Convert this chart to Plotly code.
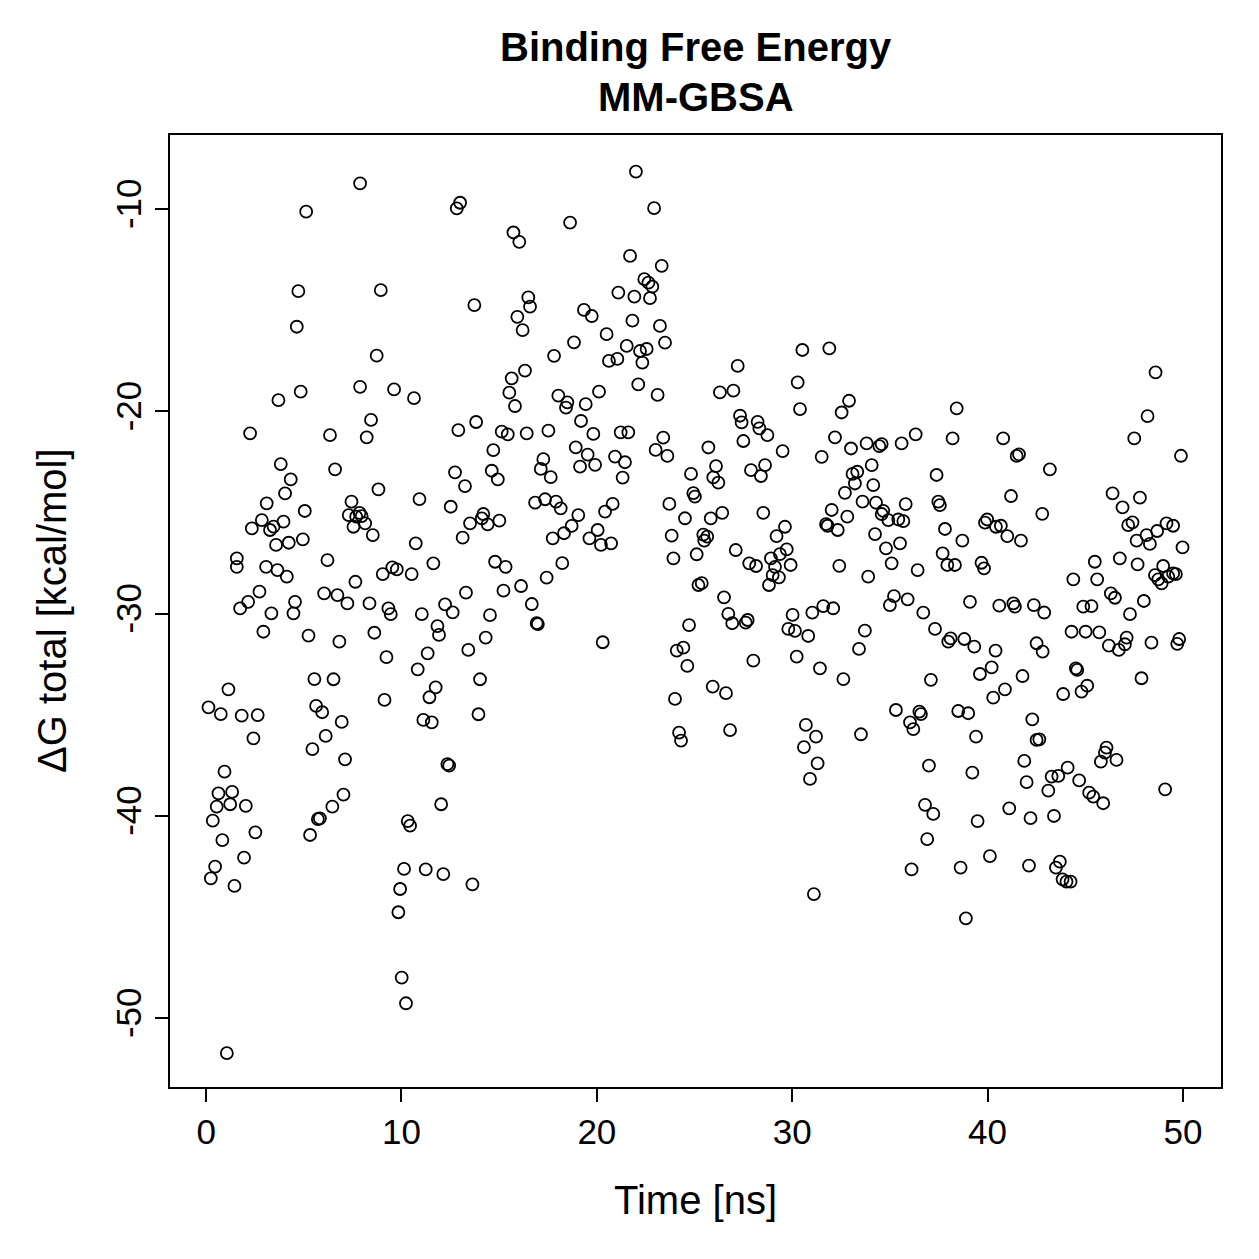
import plotly.graph_objects as go

# Time [ns] and ΔG total [kcal/mol] values
time_ns = [
 7.88,5.12,4.72,4.64,4.84,3.70,7.88,2.25,6.34,6.60,3.82,4.33,4.04,3.10,5.05,7.44,7.85,7.30,7.68,7.96,
 7.54,2.34,2.85,3.27,3.45,3.96,4.95,4.23,3.58,1.57,1.57,3.07,3.65,4.13,6.21,7.64,2.73,2.15,1.74,3.34,
 4.55,4.47,6.04,6.72,7.23,
 2.93,5.24,6.82,1.14,5.54,6.52,0.12,0.75,1.82,2.64,5.63,5.94,6.94,2.42,6.12,5.44,7.11,0.94,7.03,6.46,
 5.72,5.82,5.32,0.63,1.33,0.54,1.23,2.03,0.34,2.52,0.83,1.94,0.46,0.24,1.45,1.06,
 13.00,12.83,15.73,16.03,8.94,13.73,16.49,16.58,15.93,16.20,8.73,16.32,15.64,15.52,15.81,9.62,10.64,8.44,8.22,12.91,
 13.82,15.13,15.44,16.41,14.70,12.74,13.25,14.62,14.93,8.82,10.92,12.52,8.14,8.53,13.51,14.19,14.11,14.41,15.01,13.13,
 10.73,11.63,9.04,9.53,9.76,10.52,14.79,15.33,16.12,15.22,13.30,12.23,12.62,8.36,9.33,9.45,11.04,14.53,
 8.61,11.84,11.92,14.31,9.23,11.34,10.83,13.42,14.02,11.75,11.43,9.13,13.94,11.12,11.55,12.35,12.44,12.03,10.32,10.44,
 10.13,11.24,12.14,13.63,9.93,9.84,10.01,10.23,
 22.00,22.93,18.63,21.70,23.32,22.43,22.64,22.84,21.10,21.92,22.72,19.34,19.74,21.82,23.23,20.50,18.83,21.53,22.21,22.55,
 23.49,17.81,20.62,21.05,22.33,22.12,23.11,20.11,18.03,18.49,18.42,19.43,19.19,19.82,17.52,21.22,21.61,23.40,23.01,23.61,
 18.92,19.53,19.14,19.91,20.93,21.44,21.32,17.26,17.13,17.64,24.82,24.94,25.02,23.71,24.51,23.83,25.11,23.92,25.20,25.37,
 16.67,16.84,17.35,17.91,18.15,19.05,18.71,20.81,20.42,20.04,17.74,18.32,19.62,20.73,20.21,18.23,17.43,
 16.92,16.98,20.30,24.72,24.09,24.43,24.63,24.00,24.21,24.31,
 30.52,31.90,27.21,30.28,26.30,26.99,30.40,32.91,32.53,27.33,27.41,28.23,28.32,28.73,27.50,32.19,29.51,31.51,33.01,33.81,
 25.71,26.10,25.96,26.22,27.89,28.61,28.40,25.83,26.42,25.45,25.65,25.50,28.52,29.63,29.20,27.11,27.80,28.15,28.91,29.37,
 29.72,29.12,29.00,29.32,28.81,29.92,32.02,31.73,31.81,32.33,32.82,32.70,33.21,33.09,33.33,33.60,32.41,33.89,26.51,
 26.73,26.93,27.62,27.72,30.02,31.03,31.59,32.10,29.80,30.14,30.82,33.72,33.42,28.01,30.23,31.42,32.62,25.93,26.61,26.82,
 30.70,31.22,30.60,31.30,30.91,33.52,31.11,
 38.42,36.32,35.60,34.46,34.58,38.21,40.80,41.49,41.61,34.07,34.15,37.39,34.29,34.66,34.58,34.92,35.43,35.69,35.81,37.48,
 37.56,41.20,42.80,34.24,35.52,34.80,37.82,38.71,39.87,39.98,40.43,40.68,41.01,41.71,37.70,37.94,38.33,39.69,39.82,35.09,
 36.42,35.21,35.00,35.91,36.71,39.10,40.60,41.32,41.40,42.37,
 42.90,37.31,37.99,38.11,38.81,39.32,40.41,42.51,42.82,37.10,39.61,40.21,41.79,40.29,40.89,35.31,36.03,36.20,36.51,36.59,
 38.50,39.01,42.29,39.41,42.51,42.65,37.00,39.22,41.88,42.00,36.80,37.22,39.49,41.11,42.20,36.91,36.11,38.62,40.12,42.12,
 38.89,
 48.60,48.19,47.51,49.90,43.19,46.40,47.80,46.91,47.20,47.42,48.14,48.31,48.68,47.63,49.16,49.50,49.98,45.49,46.77,47.68,
 48.99,48.57,48.74,48.91,49.25,49.50,49.64,44.39,45.61,46.31,46.52,44.90,45.32,48.00,47.29,
 44.30,45.02,45.72,46.21,46.72,47.03,47.12,48.39,49.71,49.81,44.52,44.59,45.10,44.81,43.87,47.88,46.09,46.01,45.80,46.60,
 44.10,43.28,43.62,43.11,44.69,45.20,45.41,45.92,49.09,43.40,43.70,43.50,43.84,44.04,44.25,
]

dg_total = [
 -8.73,-10.13,-14.06,-15.82,-19.03,-19.45,-18.79,-21.09,-21.18,-22.87,-22.61,-23.37,-24.06,-24.55,-24.93,-24.47,-25.02,-25.13,-25.21,-25.18,
 -25.71,-25.79,-25.38,-25.87,-25.70,-25.46,-26.33,-26.50,-26.61,-27.27,-27.69,-27.69,-27.85,-28.18,-27.36,-28.43,-28.92,-29.42,-29.75,-29.99,
 -29.42,-29.99,-29.00,-29.09,-29.50,
 -30.90,-31.09,-31.39,-33.75,-33.24,-33.25,-34.64,-34.97,-35.05,-35.02,-34.57,-34.88,-35.36,-36.17,-36.05,-36.70,-37.21,-37.82,-38.95,-39.55,
 -40.16,-40.13,-40.95,-38.89,-38.82,-39.55,-39.43,-39.51,-40.24,-40.82,-41.20,-42.07,-42.51,-43.09,-43.47,-51.74,
 -9.69,-9.97,-11.16,-11.62,-14.01,-14.75,-14.37,-14.83,-15.33,-15.99,-17.25,-17.99,-18.37,-19.08,-19.74,-18.92,-19.35,-20.43,-21.29,-20.93,
 -20.53,-21.01,-21.14,-21.09,-21.92,-23.02,-23.70,-22.94,-23.37,-23.86,-24.34,-24.72,-25.54,-26.12,-25.54,-25.08,-25.30,-25.59,-25.41,-26.25,
 -26.53,-27.52,-28.05,-27.72,-27.82,-28.05,-27.44,-27.69,-28.64,-28.87,-28.97,-29.55,-29.94,-29.50,-29.75,-30.03,-30.03,-30.08,
 -30.95,-30.62,-31.06,-31.19,-32.16,-31.97,-32.76,-31.80,-33.25,-33.65,-34.14,-34.27,-34.98,-35.26,-35.38,-37.45,-37.52,-39.43,-40.26,-40.49,
 -42.63,-42.65,-42.88,-43.39,-43.62,-44.77,-48.00,-49.27,
 -8.15,-9.96,-10.67,-12.32,-12.81,-13.47,-13.64,-13.84,-14.13,-14.33,-14.41,-14.99,-15.29,-15.52,-15.78,-16.19,-16.59,-16.77,-17.02,-16.92,
 -16.61,-17.26,-17.51,-17.41,-17.59,-18.67,-19.19,-19.03,-19.23,-19.56,-19.82,-19.65,-20.48,-21.12,-20.96,-21.04,-21.04,-21.30,-21.91,-22.21,
 -21.78,-22.14,-22.74,-22.65,-22.24,-22.52,-23.28,-22.37,-22.85,-23.26,-23.10,-24.05,-24.22,-24.58,-25.29,-26.15,-27.07,-27.27,-28.59,-28.50,
 -29.53,-24.52,-24.35,-24.47,-24.80,-25.13,-25.67,-24.58,-24.96,-25.87,-26.28,-26.03,-26.28,-26.53,-26.61,-27.51,-28.22,
 -30.48,-30.52,-31.42,-30.57,-31.83,-31.69,-32.59,-34.22,-35.89,-36.28,
 -16.97,-16.89,-17.76,-18.57,-19.07,-18.98,-19.89,-19.48,-20.06,-20.22,-20.55,-20.52,-20.85,-21.18,-21.47,-21.29,-21.97,-22.25,-21.84,-21.59,
 -21.79,-22.71,-23.27,-23.53,-22.91,-22.66,-23.20,-25.30,-25.02,-26.10,-26.20,-26.40,-25.02,-25.71,-26.17,-26.86,-27.52,-27.65,-27.27,-27.06,
 -26.83,-27.69,-28.10,-28.21,-28.59,-27.60,-24.88,-25.58,-25.66,-25.87,-25.21,-24.03,-23.57,-23.10,-22.99,-24.47,-27.64,-28.18,-29.20,
 -30.02,-30.48,-30.45,-30.32,-30.07,-29.96,-29.63,-29.74,-30.76,-30.86,-31.11,-30.85,-31.75,-32.33,-32.13,-32.71,-33.24,-33.61,-33.94,-35.76,
 -35.51,-36.09,-36.61,-37.41,-38.18,-35.97,-43.87,
 -19.86,-21.14,-21.59,-21.72,-21.62,-21.34,-21.34,-22.21,-22.13,-22.66,-23.65,-23.15,-24.52,-24.92,-25.08,-25.38,-25.35,-25.43,-24.59,-24.47,
 -24.64,-24.19,-25.07,-26.07,-26.53,-26.78,-25.82,-26.40,-25.51,-25.35,-25.71,-25.66,-26.17,-26.40,-27.03,-27.60,-27.60,-27.49,-27.77,-27.52,
 -27.85,-29.14,-29.58,-29.30,-29.96,-29.42,-29.61,-29.50,-29.66,-29.58,
 -29.95,-30.76,-31.39,-31.23,-31.26,-31.64,-31.83,-31.47,-31.88,-33.28,-32.99,-32.66,-33.09,-34.16,-33.75,-34.77,-35.38,-35.72,-34.85,-34.97,
 -34.82,-34.93,-35.23,-36.09,-36.25,-36.22,-37.52,-37.87,-37.29,-38.34,-39.46,-39.91,-40.26,-39.63,-40.12,-41.15,-42.65,-42.56,-41.99,-42.46,
 -45.07,
 -18.08,-20.24,-21.34,-22.20,-22.87,-24.06,-24.27,-24.75,-25.63,-25.49,-26.12,-26.56,-25.92,-26.40,-25.54,-25.66,-26.73,-27.44,-27.27,-27.57,
 -27.65,-28.10,-28.31,-28.51,-28.18,-28.02,-28.05,-28.31,-28.31,-29.00,-29.22,-29.66,-29.63,-29.38,-30.03,
 -30.90,-30.90,-30.93,-31.59,-31.80,-31.52,-31.19,-31.44,-31.50,-31.26,-32.71,-32.79,-33.57,-33.86,-33.98,-33.20,-36.63,-36.88,-37.32,-37.24,
 -37.62,-38.06,-38.03,-38.76,-38.25,-38.86,-39.05,-39.38,-38.69,-40.01,-42.27,-42.56,-43.14,-43.26,-43.26,
]

x_ticks = [0, 10, 20, 30, 40, 50]
x_ticktext = ["0", "10", "20", "30", "40", "50"]
y_ticks = [-10, -20, -30, -40, -50]
y_ticktext = ["-10", "-20", "-30", "-40", "-50"]

title_lines = ["Binding Free Energy", "MM-GBSA"]
x_label = "Time [ns]"
y_label = "ΔG total [kcal/mol]"

FONT = "Liberation Sans, Arial, Helvetica, sans-serif"

fig = go.Figure()
fig.add_trace(go.Scatter(
    x=time_ns, y=dg_total, mode="markers",
    marker=dict(symbol="circle-open", size=12, color="black", line=dict(width=1.8, color="black")),
    showlegend=False, hoverinfo="x+y",
))

axis_common = dict(
    showgrid=False, zeroline=False, showline=True, mirror=True,
    linecolor="black", linewidth=2, ticks="outside", ticklen=13,
    tickwidth=2, tickcolor="black",
    tickfont=dict(family=FONT, size=35, color="black"),
)

fig.update_xaxes(range=[-1.85, 51.95], tickvals=x_ticks, ticktext=x_ticktext, **axis_common)
fig.update_yaxes(range=[-53.41, -6.34], tickvals=y_ticks, ticktext=y_ticktext, tickangle=-90, **axis_common)

plot_top, plot_bottom, plot_left, plot_right = 135, 1087, 170, 1221
H = plot_bottom - plot_top
W = plot_right - plot_left

def py(p):
    return (plot_bottom - p) / H

def px(p):
    return (p - plot_left) / W

annotations = [
    dict(text=f"<b>{title_lines[0]}</b>", x=0.5, y=py(47), xref="paper", yref="paper",
         showarrow=False, xanchor="center", yanchor="middle",
         font=dict(family=FONT, size=40, color="black")),
    dict(text=f"<b>{title_lines[1]}</b>", x=0.5, y=py(97), xref="paper", yref="paper",
         showarrow=False, xanchor="center", yanchor="middle",
         font=dict(family=FONT, size=40, color="black")),
    dict(text=x_label, x=0.5, y=py(1200), xref="paper", yref="paper",
         showarrow=False, xanchor="center", yanchor="middle",
         font=dict(family=FONT, size=40, color="black")),
    dict(text=y_label, x=px(52), y=0.5, xref="paper", yref="paper", textangle=-90,
         showarrow=False, xanchor="center", yanchor="middle",
         font=dict(family=FONT, size=40, color="black")),
]

fig.update_layout(
    width=1259, height=1259,
    margin=dict(l=plot_left, r=1259 - plot_right, t=plot_top, b=1259 - plot_bottom, autoexpand=False),
    paper_bgcolor="white", plot_bgcolor="white",
    annotations=annotations,
)

fig.write_html("out.html")
